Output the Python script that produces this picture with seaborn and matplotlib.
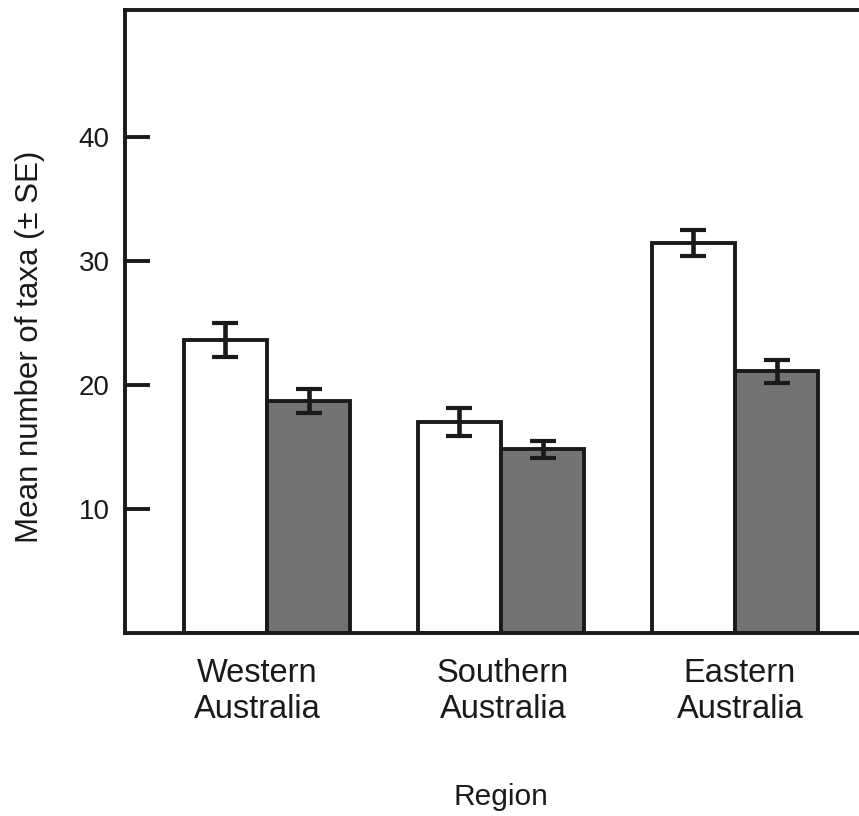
import matplotlib
matplotlib.use("Agg")
import matplotlib.pyplot as plt
import matplotlib.transforms as mtransforms
import seaborn as sns
import pandas as pd
import numpy as np

# Data: mean number of taxa per region for two groups, with standard errors
regions = ["Western\nAustralia", "Southern\nAustralia", "Eastern\nAustralia"]
groups = ["Group A", "Group B"]
means_a = [23.6, 17.0, 31.45]
means_b = [18.7, 14.8, 21.1]
se_a = [1.37, 1.13, 1.05]
se_b = [0.97, 0.69, 0.93]

df = pd.DataFrame({
    "Region": regions * 2,
    "Group": [groups[0]] * 3 + [groups[1]] * 3,
    "Mean": means_a + means_b,
})

INK = "#1a1a1a"
sns.set_theme(style="white")
plt.rcParams["font.family"] = ["Liberation Sans", "DejaVu Sans"]
plt.rcParams["text.color"] = INK
plt.rcParams["axes.labelcolor"] = INK
plt.rcParams["xtick.color"] = INK
plt.rcParams["ytick.color"] = INK

fig = plt.figure(figsize=(8.59, 8.16), dpi=100)
ax = fig.add_axes([125 / 859, 183 / 816, 752 / 859, 623 / 816])

sns.barplot(data=df, x="Region", y="Mean", hue="Group", order=regions,
            hue_order=groups, palette=["white", "#737373"], width=0.71,
            gap=0, errorbar=None, edgecolor=INK, linewidth=2.8,
            legend=False, ax=ax)

# Error bars at each bar's centre
for bars, ses in zip(ax.containers, [se_a, se_b]):
    for rect, se in zip(bars, ses):
        cx = rect.get_x() + rect.get_width() / 2
        ax.errorbar(cx, rect.get_height(), yerr=se, fmt="none",
                    ecolor=INK, elinewidth=3.3, capsize=9.5,
                    capthick=3.0, zorder=5)

ax.set_xlim(-0.607, 2.607)
ax.set_ylim(0, 50.2)
ax.set_yticks([10, 20, 30, 40])
ax.tick_params(axis="y", direction="in", length=18, width=2.8,
               color=INK, labelsize=20, pad=11, left=True)
ax.tick_params(axis="x", length=0, labelsize=23.5, pad=18)

# Region labels sit slightly off their group centres
label_shift = [-10, 2, 5]
for lbl, dx in zip(ax.get_xticklabels(), label_shift):
    lbl.set_linespacing(1.2)
    lbl.set_transform(lbl.get_transform() +
                      mtransforms.ScaledTranslation(dx / 100, 0, fig.dpi_scale_trans))

for side in ["left", "bottom", "top", "right"]:
    ax.spines[side].set_visible(True)
    ax.spines[side].set_color(INK)
    ax.spines[side].set_linewidth(2.8)

ax.set_xlabel("Region", fontsize=21.5, labelpad=0)
ax.xaxis.set_label_coords(0.5, -0.241)
ax.set_ylabel("Mean number of taxa (± SE)", fontsize=22.5)
ax.yaxis.set_label_coords(-0.106, 0.46)

fig.savefig("out.png", dpi=100, facecolor="white")
